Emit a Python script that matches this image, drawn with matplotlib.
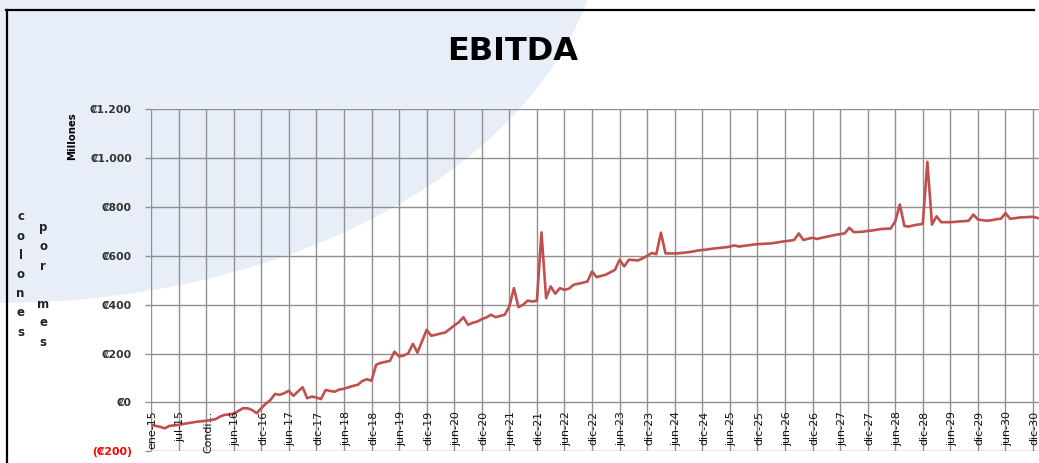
import matplotlib
matplotlib.use("Agg")
import matplotlib.pyplot as plt
import matplotlib.transforms as mtransforms
from matplotlib.patches import Ellipse
from matplotlib.lines import Line2D

# ---------------- data ----------------
ebitda = [
    -92, -96, -100, -106, -96, -94,
    -92, -88, -85, -82, -79, -77,
    -75, -72, -69, -58, -51, -49,
    -46, -35, -24, -24, -31, -44,
    -24, -5, 10, 35, 31, 38,
    48, 27, 45, 62, 17, 24,
    20, 14, 51, 47, 44, 53,
    56, 62, 68, 72, 88, 95,
    89, 154, 162, 166, 170, 208,
    188, 192, 201, 240, 204, 250,
    297, 273, 277, 282, 286, 300,
    315, 328, 349, 318, 326, 331,
    341, 348, 359, 349, 354, 359,
    393, 468, 390, 400, 417, 413,
    416, 696, 427, 475, 445, 468,
    461, 466, 482, 486, 490, 495,
    536, 513, 518, 523, 533, 543,
    584, 557, 584, 583, 581, 590,
    600, 612, 607, 695, 610, 610,
    610, 611, 613, 615, 618, 622,
    624, 626, 629, 631, 633, 635,
    638, 643, 638, 641, 643, 646,
    648, 649, 650, 651, 654, 657,
    660, 662, 665, 692, 665, 670,
    674, 669, 674, 678, 682, 686,
    689, 692, 715, 697, 698, 699,
    702, 704, 707, 710, 711, 712,
    741, 810, 722, 720, 725, 728,
    731, 985, 728, 762, 738, 738,
    738, 739, 741, 742, 744, 769,
    749, 746, 744, 746, 750, 752,
    775, 752, 754, 757, 758, 759,
    760, 755,
]
tick_labels = ["ene-15", "jul-15", "Condi…"] + [
    f"{m}-{y}" for y in range(16, 31) for m in ("jun", "dic")
]
y_ticks = [1200, 1000, 800, 600, 400, 200, 0, -200]
y_tick_labels = ["₡1.200", "₡1.000", "₡800", "₡600", "₡400", "₡200", "₡0", "(₡200)"]
title = "EBITDA"
unit_label = "Millones"
side_word1 = "colones"
side_word2 = "por mes"

# ---------------- figure ----------------
W, H = 1039, 463
fig = plt.figure(figsize=(W / 100, H / 100), dpi=100)
fig.patch.set_facecolor("white")
px = mtransforms.Affine2D().scale(1, -1).translate(0, H)  # top-left pixel coords

# background decoration
bg = Ellipse((0, -95), width=2 * 605, height=2 * 398, transform=px,
             facecolor="#e7eef7", edgecolor="none", zorder=0)
fig.add_artist(bg)

# frame lines
fig.add_artist(Line2D([6.5, 6.5], [10, 463], transform=px, color="black", lw=1.6, zorder=5))
fig.add_artist(Line2D([6, 1034], [10, 10], transform=px, color="black", lw=1.6, zorder=5))

# axes
left = 151 / W
right = 1.0
top = 109.3 / H
bottom = 451.3 / H
ax = fig.add_axes([left, 1 - bottom, right - left, bottom - top])
ax.set_facecolor("none")

x = list(range(len(ebitda)))
ax.plot(x, ebitda, color="#c0504d", lw=1.9, solid_joinstyle="round", zorder=3)

xmax = (W - 151) / 4.594
ax.set_xlim(0, xmax)
ax.set_ylim(-200, 1200)

ax.set_yticks(y_ticks)
ax.set_yticklabels(y_tick_labels)
for lbl, v in zip(ax.get_yticklabels(), y_ticks):
    lbl.set_fontweight("bold")
    lbl.set_fontsize(7.8)
    lbl.set_color("#ff0000" if v < 0 else "#333333")
ax.tick_params(axis="y", length=4.3, width=1.0, color="#909090", pad=9.5)

xt = list(range(0, 6 * len(tick_labels), 6))
ax.set_xticks(xt)
ax.set_xticklabels([])
ax.tick_params(axis="x", length=0)
for xi, lab in zip(xt, tick_labels):
    ax.annotate(lab, xy=(xi, 0), xytext=(1.3, -6), textcoords="offset points",
                rotation=90, ha="center", va="top", fontsize=7.9,
                color="#111111", annotation_clip=False)

ax.grid(True, color="#909090", lw=1.0)
ax.set_axisbelow(True)
for s in ax.spines.values():
    s.set_visible(False)

# texts
fig.text(513 / W, 1 - 51 / H, title, ha="center", va="center",
         fontsize=23, fontweight="bold", color="black")
fig.text(72.5 / W, 1 - 136 / H, unit_label, rotation=90, ha="center", va="center",
         fontsize=7.3, fontweight="bold", color="black")
for k, ch in enumerate(side_word1):
    fig.text(20.5 / W, 1 - (217 + 19.2 * k) / H, ch, ha="center", va="center",
             fontsize=8.5, fontweight="bold", color="#222222")
for k, ch in enumerate(side_word2):
    if ch != " ":
        fig.text(43 / W, 1 - (228 + 19 * k) / H, ch, ha="center", va="center",
                 fontsize=8.5, fontweight="bold", color="#222222")

fig.savefig("out.png", dpi=100)
